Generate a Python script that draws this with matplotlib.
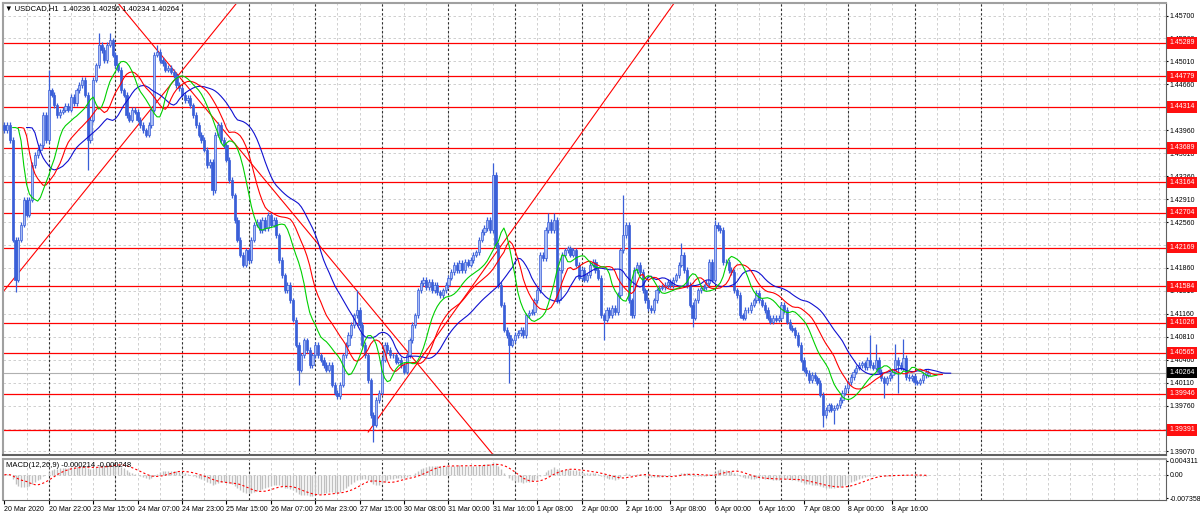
import numpy as np
import pandas as pd
import matplotlib
matplotlib.use('Agg')
import matplotlib.pyplot as plt
import matplotlib.transforms as mtransforms

plt.rcParams['font.family'] = ['Liberation Sans', 'DejaVu Sans']

# USDCAD H1 closes, one per bar (bar 0 = 20 Mar 2020 06:00)
close = [
    1.4396, 1.4404, 1.4381, 1.4229, 1.4168, 1.4229, 1.4252, 1.4290, 1.4267, 1.4290, 1.4343, 1.4358, 1.4366, 1.4373, 1.4419, 1.4381,
    1.4457, 1.4450, 1.4434, 1.4419, 1.4424, 1.4427, 1.4433, 1.4427, 1.4447, 1.4437, 1.4457, 1.4465, 1.4473, 1.4450, 1.4381, 1.4412,
    1.4473, 1.4495, 1.4526, 1.4518, 1.4503, 1.4526, 1.4533, 1.4511, 1.4495, 1.4488, 1.4457, 1.4450, 1.4419, 1.4412, 1.4427, 1.4424,
    1.4412, 1.4404, 1.4396, 1.4389, 1.4404, 1.4427, 1.4511, 1.4515, 1.4503, 1.4498, 1.4488, 1.4491, 1.4485, 1.4480, 1.4465, 1.4460,
    1.4450, 1.4442, 1.4445, 1.4434, 1.4419, 1.4404, 1.4389, 1.4381, 1.4366, 1.4343, 1.4348, 1.4305, 1.4389, 1.4404, 1.4381, 1.4373,
    1.4351, 1.4320, 1.4297, 1.4259, 1.4229, 1.4206, 1.4191, 1.4213, 1.4198, 1.4229, 1.4252, 1.4256, 1.4244, 1.4259, 1.4247, 1.4267,
    1.4252, 1.4259, 1.4236, 1.4198, 1.4175, 1.4152, 1.4160, 1.4137, 1.4107, 1.4069, 1.4031, 1.4053, 1.4076, 1.4061, 1.4038, 1.4053,
    1.4069, 1.4053, 1.4046, 1.4038, 1.4031, 1.4038, 1.4008, 1.3996, 1.3991, 1.4008, 1.4053, 1.4069, 1.4084, 1.4099, 1.4114, 1.4122,
    1.4099, 1.4069, 1.4053, 1.4015, 1.3962, 1.3947, 1.3985, 1.3996, 1.4046, 1.4069, 1.4061, 1.4053, 1.4053, 1.4043, 1.4046, 1.4038,
    1.4028, 1.4053, 1.4076, 1.4099, 1.4114, 1.4152, 1.4163, 1.4168, 1.4157, 1.4165, 1.4152, 1.4160, 1.4149, 1.4145, 1.4152, 1.4160,
    1.4171, 1.4180, 1.4191, 1.4183, 1.4194, 1.4183, 1.4195, 1.4191, 1.4198, 1.4206, 1.4210, 1.4229, 1.4241, 1.4247, 1.4259, 1.4244,
    1.4328, 1.4221, 1.4160, 1.4130, 1.4092, 1.4084, 1.4069, 1.4076, 1.4084, 1.4087, 1.4092, 1.4084, 1.4114, 1.4118, 1.4119, 1.4137,
    1.4152, 1.4206, 1.4201, 1.4244, 1.4256, 1.4244, 1.4259, 1.4137, 1.4183, 1.4206, 1.4213, 1.4216, 1.4206, 1.4213, 1.4191, 1.4171,
    1.4183, 1.4168, 1.4175, 1.4191, 1.4195, 1.4183, 1.4171, 1.4114, 1.4107, 1.4122, 1.4114, 1.4125, 1.4119, 1.4145, 1.4213, 1.4236,
    1.4252, 1.4137, 1.4114, 1.4183, 1.4191, 1.4180, 1.4152, 1.4137, 1.4125, 1.4122, 1.4137, 1.4152, 1.4156, 1.4157, 1.4160, 1.4165,
    1.4160, 1.4168, 1.4175, 1.4191, 1.4206, 1.4183, 1.4160, 1.4130, 1.4110, 1.4137, 1.4152, 1.4156, 1.4157, 1.4163, 1.4195, 1.4168,
    1.4252, 1.4247, 1.4244, 1.4195, 1.4195, 1.4183, 1.4180, 1.4152, 1.4145, 1.4114, 1.4110, 1.4122, 1.4122, 1.4130, 1.4137, 1.4148,
    1.4137, 1.4130, 1.4122, 1.4110, 1.4104, 1.4110, 1.4107, 1.4110, 1.4130, 1.4122, 1.4104, 1.4095, 1.4092, 1.4084, 1.4069, 1.4046,
    1.4031, 1.4026, 1.4015, 1.4023, 1.4018, 1.4011, 1.3993, 1.3962, 1.3970, 1.3977, 1.3970, 1.3973, 1.3977, 1.3985, 1.3996, 1.4003,
    1.4012, 1.4020, 1.4028, 1.4034, 1.4038, 1.4041, 1.4035, 1.4046, 1.4038, 1.4034, 1.4046, 1.4028, 1.4018, 1.4011, 1.4018, 1.4023,
    1.4028, 1.4046, 1.4038, 1.4034, 1.4049, 1.4020, 1.4018, 1.4021, 1.4012, 1.4011, 1.4015, 1.4023, 1.4028, 1.40264,
]
first_open = 1.4404
wick = 0.0004
spike_hi = {16: 1.4488, 34: 1.4544, 38: 1.4544, 55: 1.4526, 127: 1.4152, 176: 1.4346, 196: 1.4270,
            198: 1.4270, 223: 1.4297, 244: 1.4224, 256: 1.4259, 312: 1.4084, 314: 1.4070, 321: 1.4070, 324: 1.4078}
spike_lo = {4: 1.4149, 30: 1.4335, 75: 1.4297, 106: 1.4008, 133: 1.3921, 182: 1.4011, 216: 1.4076,
            248: 1.4096, 295: 1.3943, 299: 1.3949, 317: 1.3988, 322: 1.3996}

levels = [1.45289, 1.44779, 1.44314, 1.43689, 1.43164, 1.42704, 1.42169, 1.41584, 1.41026, 1.40565, 1.39946, 1.39391]
last_price = 1.40264
price_ticks = [1.45700, 1.45360, 1.45010, 1.44660, 1.44310, 1.43960, 1.43610, 1.43260, 1.42910, 1.42560,
               1.42210, 1.41860, 1.41510, 1.41160, 1.40810, 1.40460, 1.40110, 1.39760, 1.39410, 1.39070]
time_labels = ['20 Mar 2020', '20 Mar 22:00', '23 Mar 15:00', '24 Mar 07:00', '24 Mar 23:00', '25 Mar 15:00',
               '26 Mar 07:00', '26 Mar 23:00', '27 Mar 15:00', '30 Mar 08:00', '31 Mar 00:00', '31 Mar 16:00',
               '1 Apr 08:00', '2 Apr 00:00', '2 Apr 16:00', '3 Apr 08:00', '6 Apr 00:00', '6 Apr 16:00',
               '7 Apr 08:00', '8 Apr 00:00', '8 Apr 16:00']
# trend lines, anchors as (bar, price)
trend_lines = [((0.94, 1.4157), (78.8, 1.4564)), ((46.0, 1.4564), (175.6, 1.3904))]
trend_ray = ((131.1, 1.3936), (214.6, 1.4431))
macd_ticks = [0.004311, 0.0, -0.007358]
macd_tick_labels = ['0.004311', '0.00', '-0.007358']

c = np.array(close)
n = len(c)
x = np.arange(n)
o = np.r_[first_open, c[:-1]]
o[-1] = 1.40236
hi = np.maximum(o, c) + wick
lo = np.minimum(o, c) - wick
for k, v in spike_hi.items():
    hi[k] = max(hi[k], v)
for k, v in spike_lo.items():
    lo[k] = min(lo[k], v)

fig = plt.figure(figsize=(12, 5.18), dpi=100)
ax = fig.add_axes([0.0025, 0.12162, 0.96917, 0.87259])
ax2 = fig.add_axes([0.0025, 0.03475, 0.96917, 0.07915], sharex=ax)

xmax = 418.6
ax.set_xlim(-0.505, xmax)
ax.set_ylim(1.39010, 1.45898)

# grid
for g in range(8, 420, 8):
    for a in (ax, ax2):
        a.axvline(g, color='#c8c8c8', lw=0.6, ls=(0, (3, 3)), zorder=0)
for g in range(16, 353, 24):
    for a in (ax, ax2):
        a.axvline(g, color='#303030', lw=0.8, ls=(0, (2, 2)), zorder=0.5)
for p in price_ticks:
    ax.axhline(p, color='#c8c8c8', lw=0.6, ls=(0, (3, 3)), zorder=0)
ax2.axhline(0, color='#c8c8c8', lw=0.6, ls=(0, (3, 3)), zorder=0)

# levels and trend lines
for lv in levels:
    ax.axhline(lv, color='#ff0000', lw=0.9, zorder=1)
ax.axhline(last_price, color='#b0b0b0', lw=0.8, zorder=1)
for p1, p2 in trend_lines:
    ax.axline(p1, p2, color='#ff0000', lw=0.8, zorder=1)
(x1, y1), (x2, y2) = trend_ray
slope = (y2 - y1) / (x2 - x1)
ax.plot([x1, xmax], [y1, y1 + slope * (xmax - x1)], color='#ff0000', lw=0.8, zorder=1)

# candles
ax.vlines(x, lo, hi, color='#3a5fd8', lw=0.9, zorder=3)
bull = c >= o
ax.bar(x[bull], c[bull] - o[bull], bottom=o[bull], width=0.8, color='#a9bcf5',
       edgecolor='#3a5fd8', lw=0.5, zorder=4)
ax.bar(x[~bull], c[~bull] - o[~bull], bottom=o[~bull], width=0.8, color='#3a5fd8',
       edgecolor='#3a5fd8', lw=0.5, zorder=4)

# alligator
med = pd.Series((hi + lo) / 2)
for per, sh, col in [(13, 8, '#1010d0'), (8, 5, '#ff0000'), (5, 3, '#00d000')]:
    smma = med.ewm(alpha=1.0 / per, adjust=False).mean()
    ax.plot(x + sh, smma, color=col, lw=0.8, zorder=5)

# MACD
cs = pd.Series(c)
macd = cs.ewm(span=12, adjust=False).mean() - cs.ewm(span=26, adjust=False).mean()
signal = macd.rolling(9, min_periods=1).mean()
ax2.vlines(x, 0, macd, color='#c0c0c0', lw=1.0, zorder=2)
ax2.plot(x, signal, color='#ff0000', lw=0.8, ls=(0, (2, 2)), zorder=3)
ax2.set_ylim(-0.0079, 0.0049)

# axes styling
for a in (ax, ax2):
    a.yaxis.tick_right()
    a.tick_params(axis='y', length=1.5, pad=1, labelsize=5, colors='black')
    for s in ('left', 'top'):
        a.spines[s].set_color('#a0a0a0')
        a.spines[s].set_linewidth(1.5)
    a.spines['right'].set_color('#606060')
    a.spines['bottom'].set_color('#606060')
ax.spines['bottom'].set_linewidth(1.5)
ax.set_yticks(price_ticks)
ax.set_yticklabels([f'{p:.5f}' for p in price_ticks])
ax.tick_params(axis='x', bottom=False, labelbottom=False)
ax2.set_yticks(macd_ticks)
ax2.set_yticklabels(macd_tick_labels)
ax2.set_xticks(np.arange(len(time_labels)) * 16)
ax2.set_xticklabels(time_labels, ha='left')
ax2.tick_params(axis='x', length=3, pad=1.5, labelsize=5)

trans = mtransforms.blended_transform_factory(ax.transAxes, ax.transData)
for lv in levels + [last_price]:
    fc = '#000000' if lv == last_price else '#ff1010'
    ax.annotate(f'{lv:.5f}', xy=(1, lv), xycoords=trans, xytext=(2.4, 0), textcoords='offset points',
                ha='left', va='center', fontsize=5, color='white', annotation_clip=False, zorder=10,
                bbox=dict(boxstyle='square,pad=0.3', fc=fc, ec='none'))

fig.text(0.004, 0.983, '\u25bc USDCAD,H1  1.40236 1.40296 1.40234 1.40264', fontsize=5.5, va='center',
         family=['Liberation Sans', 'DejaVu Sans'])
ax2.text(0.003, 0.92, 'MACD(12,26,9) -0.000214 -0.000248', transform=ax2.transAxes, fontsize=5.5, va='top')

fig.savefig('out.png', dpi=100)
